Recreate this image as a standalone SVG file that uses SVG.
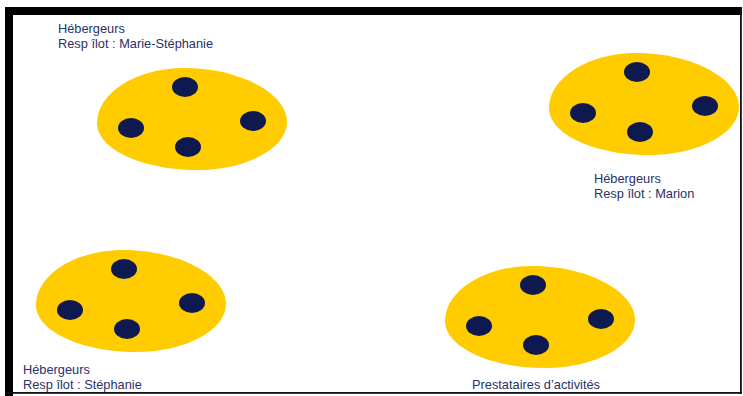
<svg xmlns="http://www.w3.org/2000/svg" width="743" height="396" viewBox="0 0 743 396">
<style>
.lbl{font-family:"Liberation Sans",Arial,sans-serif;font-size:12.8px;fill:#2a3168}
.blob{fill:#ffcc00}
.dot{fill:#0e1a4f}
</style>
<defs>
<path id="egg" d="M -95,4 C -95,-26 -56,-51 -8,-51 C 49,-51 95,-25 95,3 C 95,29 55,51 5,51 C -50,51 -95,30 -95,4 Z"/>
<g id="ilot">
<use href="#egg" class="blob"/>
<ellipse class="dot" cx="-7" cy="-32" rx="13" ry="10"/>
<ellipse class="dot" cx="-61" cy="9" rx="13" ry="10"/>
<ellipse class="dot" cx="61" cy="2" rx="13" ry="10"/>
<ellipse class="dot" cx="-4" cy="28" rx="13" ry="10"/>
</g>
</defs>
<rect width="743" height="396" fill="#ffffff"/>
<g id="frame">
<rect x="5" y="7" width="737" height="8" fill="#000"/>
<rect x="5" y="7" width="8" height="389" fill="#000"/>
<rect x="740" y="7" width="1.8" height="387" fill="#111"/>
<rect x="5" y="392" width="737" height="1.8" fill="#111"/>
</g>
<g id="ilot-marie-stephanie">
<use href="#ilot" transform="translate(192,119)"/>
<text class="lbl" x="58" y="33">Hébergeurs</text>
<text class="lbl" x="58" y="48">Resp îlot : Marie-Stéphanie</text>
</g>
<g id="ilot-marion">
<use href="#ilot" transform="translate(644,104)"/>
<text class="lbl" x="594" y="183">Hébergeurs</text>
<text class="lbl" x="594" y="198">Resp îlot : Marion</text>
</g>
<g id="ilot-stephanie">
<use href="#ilot" transform="translate(131,301)"/>
<text class="lbl" x="23" y="374">Hébergeurs</text>
<text class="lbl" x="23" y="389">Resp îlot : Stéphanie</text>
</g>
<g id="ilot-prestataires">
<use href="#ilot" transform="translate(540,317)"/>
<text class="lbl" x="472" y="389">Prestataires d’activités</text>
</g>
<g id="connectors"/>
</svg>
